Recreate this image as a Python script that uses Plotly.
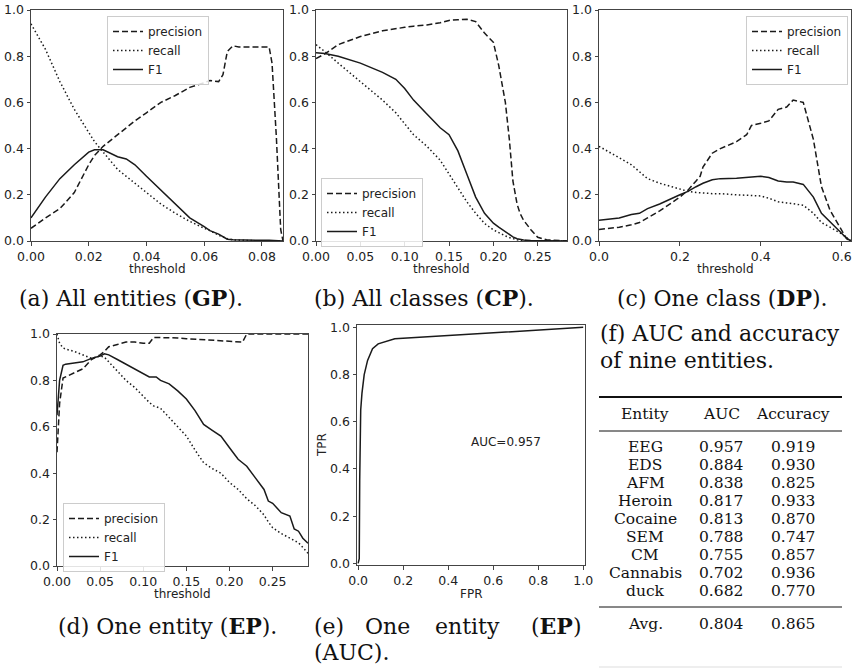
import plotly.graph_objects as go

# ---------------- data ----------------
# (a) All entities (GP)
a_thr = [0, .005, .01, .015, .02, .022, .025, .03, .033, .036, .04, .045, .05, .055, .06, .062, .065, .0665, .068, .07, .072, .075, .08, .0825, .0835, .085, .0865, .0873]
a_precision = [.055, .10, .14, .21, .33, .37, .41, .46, .49, .52, .555, .60, .63, .665, .685, .695, .69, .72, .82, .845, .84, .84, .84, .84, .77, .45, .05, 0.0]
a_recall = [.94, .83, .69, .57, .47, .43, .385, .31, .28, .25, .21, .16, .12, .085, .055, .045, .025, .018, .01, .005, .003, .002, .001, .001, .001, 0, 0, 0]
a_f1 = [.10, .19, .27, .33, .385, .395, .395, .365, .355, .33, .28, .22, .163, .10, .062, .045, .03, .02, .008, .005, .004, .003, .003, .003, .003, .002, 0, 0]

# (b) All classes (CP)
b_thr = [0, .01, .025, .05, .075, .09, .10, .11, .125, .14, .15, .16, .17, .18, .19, .20, .206, .2135, .218, .222, .2267, .23, .234, .242, .25, .26, .27, .283]
b_precision = [.79, .81, .85, .885, .91, .92, .925, .93, .935, .945, .955, .958, .96, .95, .90, .86, .76, .60, .44, .26, .16, .12, .09, .05, .016, .005, .002, 0]
b_recall = [.85, .82, .77, .69, .61, .555, .51, .46, .41, .35, .29, .23, .17, .12, .076, .048, .035, .022, .015, .01, .005, .004, .002, .001, 0, 0, 0, 0]
b_f1 = [.815, .812, .80, .77, .73, .70, .66, .61, .55, .49, .46, .39, .29, .19, .12, .077, .06, .04, .025, .018, .01, .007, .004, .002, .001, 0, 0, 0]

# (c) One class (DP)
c_thr = [0, .05, .08, .1, .12, .15, .2, .22, .24, .25, .257, .28, .3, .34, .365, .377, .4, .42, .443, .464, .48, .505, .53, .55, .571, .596, .612, .623]
c_precision = [.05, .06, .07, .08, .10, .13, .19, .22, .26, .28, .32, .38, .40, .43, .46, .50, .51, .52, .57, .58, .61, .60, .44, .235, .134, .055, .01, 0]
c_recall = [.41, .36, .33, .30, .27, .25, .225, .215, .21, .21, .208, .205, .205, .20, .198, .197, .195, .185, .17, .165, .16, .155, .12, .08, .06, .035, .015, 0]
c_f1 = [.09, .10, .115, .12, .14, .16, .20, .215, .235, .245, .25, .265, .27, .272, .275, .275, .28, .275, .26, .255, .255, .245, .19, .12, .085, .04, .012, 0]

# (d) One entity (EP)
d_thr = [0, .003, .007, .01, .02, .03, .04, .05, .055, .06, .07, .08, .09, .10, .107, .112, .115, .12, .13, .14, .15, .16, .17, .18, .19, .20, .21, .215, .22, .23, .24, .245, .25, .26, .27, .275, .28, .285, .291]
d_precision = [.49, .70, .81, .815, .83, .85, .89, .91, .925, .945, .955, .965, .965, .96, .96, .985, .985, .985, .985, .983, .98, .978, .975, .975, .972, .97, .968, .965, 1, 1, 1, 1, 1, 1, 1, 1, 1, 1, 1]
d_recall = [1.0, .96, .94, .935, .925, .91, .895, .905, .90, .88, .84, .80, .77, .73, .705, .69, .685, .68, .64, .60, .56, .50, .445, .42, .40, .36, .33, .31, .29, .26, .22, .19, .165, .14, .12, .11, .10, .08, .055]
d_f1 = [.65, .80, .865, .87, .875, .88, .895, .905, .915, .91, .89, .87, .85, .83, .815, .815, .815, .80, .785, .755, .72, .67, .61, .585, .56, .51, .46, .445, .43, .38, .33, .28, .27, .23, .215, .16, .15, .12, .098]

# (e) ROC of one entity
e_fpr = [0, .005, .007, .009, .0115, .017, .027, .042, .064, .089, .126, .163, 1.0]
e_tpr = [0, .02, .35, .55, .65, .72, .80, .86, .91, .93, .94, .952, 1.0]
e_auc_text = "AUC=0.957"

# (f) table
tbl_header = ["Entity", "AUC", "Accuracy"]
tbl_entity = ["EEG", "EDS", "AFM", "Heroin", "Cocaine", "SEM", "CM", "Cannabis", "duck"]
tbl_auc = ["0.957", "0.884", "0.838", "0.817", "0.813", "0.788", "0.755", "0.702", "0.682"]
tbl_acc = ["0.919", "0.930", "0.825", "0.933", "0.870", "0.747", "0.857", "0.936", "0.770"]
tbl_avg = ["Avg.", "0.804", "0.865"]

series_names = ["precision", "recall", "F1"]

# ---------------- styling ----------------
W, H = 856, 670
INK = "#1a1a1a"
AX = "#444444"
TXT = "#222222"
SANS = "DejaVu Sans"
SERIF = "DejaVu Serif"
dash_styles = ["6px,3px", "1.5px,2.5px", "solid"]

def px(x):
    return x / W

def py(y):
    return 1 - y / H

fig = go.Figure()

panels = [
    ("x", "y", "legend", a_thr, [a_precision, a_recall, a_f1]),
    ("x2", "y2", "legend2", b_thr, [b_precision, b_recall, b_f1]),
    ("x3", "y3", "legend3", c_thr, [c_precision, c_recall, c_f1]),
    ("x4", "y4", "legend4", d_thr, [d_precision, d_recall, d_f1]),
]
for xa, ya, lg, thr, ys in panels:
    for name, vals, dsh in zip(series_names, ys, dash_styles):
        fig.add_trace(go.Scatter(
            x=thr, y=vals, mode="lines", name=name,
            line=dict(color=INK, width=1.5, dash=dsh),
            xaxis=xa, yaxis=ya, legend=lg, showlegend=True,
        ))

fig.add_trace(go.Scatter(
    x=e_fpr, y=e_tpr, mode="lines", line=dict(color=INK, width=1.5),
    xaxis="x5", yaxis="y5", showlegend=False,
))

def axis(domain, rng, dtick, fmt, anchor):
    return dict(
        domain=domain, range=rng, dtick=dtick, tick0=0, tickformat=fmt,
        showline=True, mirror=True, linecolor=AX, linewidth=1,
        ticks="outside", ticklen=3.5, tickwidth=1, tickcolor=AX,
        tickfont=dict(family=SANS, size=12.5, color=TXT),
        showgrid=False, zeroline=False, anchor=anchor, automargin=False,
    )

row1_y = [py(241), py(10)]
row2_y = [py(566), py(334)]
fig.update_layout(
    xaxis=axis([px(31), px(283)], [0, 0.0873], 0.02, ".2f", "y"),
    yaxis=axis(row1_y, [0, 1], 0.2, ".1f", "x"),
    xaxis2=axis([px(316), px(567)], [0, 0.283], 0.05, ".2f", "y2"),
    yaxis2=axis(row1_y, [0, 1], 0.2, ".1f", "x2"),
    xaxis3=axis([px(599), px(851)], [0, 0.623], 0.2, ".1f", "y3"),
    yaxis3=axis(row1_y, [0, 1], 0.2, ".1f", "x3"),
    xaxis4=axis([px(57), px(308)], [0, 0.291], 0.05, ".2f", "y4"),
    yaxis4=axis(row2_y, [0, 1], 0.2, ".1f", "x4"),
    xaxis5=axis([px(357), px(585)], [-0.005, 1.008], 0.2, ".1f", "y5"),
    yaxis5=axis([py(565), py(325)], [-0.007, 1.01], 0.2, ".1f", "x5"),
)

def legend_at(x, y):
    return dict(
        x=px(x), y=py(y), xanchor="left", yanchor="top",
        bgcolor="rgba(255,255,255,0.85)", bordercolor="#cccccc", borderwidth=1,
        font=dict(family=SANS, size=12, color=TXT),
        tracegroupgap=0, itemwidth=30,
    )

fig.update_layout(
    width=W, height=H, margin=dict(l=0, r=0, t=0, b=0, pad=0, autoexpand=False),
    paper_bgcolor="white", plot_bgcolor="white",
    legend=legend_at(107, 16),
    legend2=legend_at(321, 178),
    legend3=legend_at(746, 16),
    legend4=legend_at(63, 503),
)

ann = []
def label(text, x, y, angle=0, size=12):
    ann.append(dict(x=px(x), y=py(y), xref="paper", yref="paper", text=text, showarrow=False,
                    xanchor="center", yanchor="middle", textangle=angle,
                    font=dict(family=SANS, size=size, color=TXT)))

# axis titles
label("threshold", 157, 269)
label("threshold", 441, 269)
label("threshold", 725, 269)
label("threshold", 182, 594)
label("FPR", 471, 594)
label("TPR", 322, 445, angle=-90)

# AUC text in (e)
ann.append(dict(x=0.655, y=0.516, xref="x5", yref="y5", text=e_auc_text, showarrow=False,
                font=dict(family=SANS, size=12, color=TXT)))

CAP = 22
def cap(text, x, y, xanchor="center"):
    ann.append(dict(x=px(x), y=py(y), xref="paper", yref="paper", text=text, showarrow=False,
                    xanchor=xanchor, yanchor="middle",
                    font=dict(family=SERIF, size=CAP, color="#111111")))

cap("(a) All entities (<b>GP</b>).", 131, 298)
cap("(b) All classes (<b>CP</b>).", 424, 298)
cap("(c) One class (<b>DP</b>).", 722, 298)
cap("(d) One entity (<b>EP</b>).", 167, 626)
# justified caption of (e)
cap("(e)", 312, 626, "left")
cap("One", 387, 626)
cap("entity", 467, 626)
cap("(<b>EP</b>)", 584, 626, "right")
cap("(AUC).", 312, 652, "left")
cap("(f) AUC and accuracy", 598, 334, "left")
cap("of nine entities.", 598, 360, "left")

TF = 15.5
ROW = 18.0
col_x = [645, 721, 793]
def cell(text, x, y):
    ann.append(dict(x=px(x), y=py(y), xref="paper", yref="paper", text=text, showarrow=False,
                    xanchor="center", yanchor="middle", borderpad=0,
                    font=dict(family=SERIF, size=TF, color="#111111")))

for cx, h in zip(col_x, tbl_header):
    cell(h, cx, 414)
for i, (e, a, c) in enumerate(zip(tbl_entity, tbl_auc, tbl_acc)):
    yy = 447 + ROW * i
    cell(e, col_x[0], yy)
    cell(a, col_x[1], yy)
    cell(c, col_x[2], yy)
for cx, t in zip(col_x, tbl_avg):
    cell(t, cx, 624)

fig.update_layout(annotations=ann)

shapes = []
def rule(y, w, color="#111111"):
    shapes.append(dict(type="line", xref="paper", yref="paper", x0=px(599), x1=px(842),
                       y0=py(y), y1=py(y), line=dict(color=color, width=w)))
rule(397, 1.8)
rule(431, 1.0)
rule(607, 1.0)
rule(667, 1.0, "#dddddd")
fig.update_layout(shapes=shapes)

fig.write_html(
    "out.html",
    config={"displayModeBar": False},
    post_script="document.body.style.margin='0px';document.body.style.overflow='hidden';",
)
